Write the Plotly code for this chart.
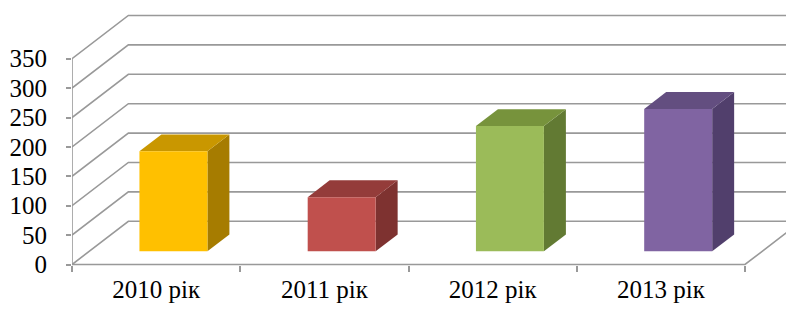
import plotly.graph_objects as go

# ---- data ----
categories = ["2010 рік", "2011 рік", "2012 рік", "2013 рік"]
values = [170, 92, 213, 242]
y_ticks = [0, 50, 100, 150, 200, 250, 300, 350]
front_colors = ["#FFC000", "#C0504D", "#9BBB59", "#8064A2"]
top_colors = ["#C99700", "#943C3A", "#77933C", "#634E80"]
side_colors = ["#A67C00", "#7E3230", "#627A33", "#513F6C"]

# ---- oblique 3D projection parameters (in data units) ----
DX = 0.335      # x shift for full depth (category units)
DY = 73.5       # y shift for full depth (value units)
D_FRONT = 0.307 # depth of bar front face
D_BAR = 0.39    # bar depth
BAR_W = 0.404   # bar width (category units)
N = len(categories)
YMAX = y_ticks[-1]

GRID = "#999999"
fig = go.Figure()

def line(xs, ys, color=GRID, width=1.6):
    fig.add_trace(go.Scatter(x=xs, y=ys, mode="lines", hoverinfo="skip",
                             line=dict(color=color, width=width), showlegend=False))

# gridlines on left wall and back wall
for v in y_ticks:
    line([0, DX, N + DX + 0.5], [v, v + DY, v + DY])
# y axis line (front-left edge)
line([0, 0], [0, YMAX])
# floor front edge and right edge
line([0, N, N + DX], [0, 0, DY])

# bars
for i, (v, fc, tc, sc) in enumerate(zip(values, front_colors, top_colors, side_colors)):
    xl = i + 0.5 - BAR_W / 2 + D_FRONT * DX
    xr = xl + BAR_W
    y0 = D_FRONT * DY
    y1 = y0 + v
    ddx = D_BAR * DX
    ddy = D_BAR * DY
    # side face
    fig.add_trace(go.Scatter(x=[xr, xr + ddx, xr + ddx, xr, xr], y=[y0, y0 + ddy, y1 + ddy, y1, y0],
                             fill="toself", fillcolor=sc, mode="lines", line=dict(width=0, color=sc),
                             hoverinfo="skip", showlegend=False))
    # top face
    fig.add_trace(go.Scatter(x=[xl, xr, xr + ddx, xl + ddx, xl], y=[y1, y1, y1 + ddy, y1 + ddy, y1],
                             fill="toself", fillcolor=tc, mode="lines", line=dict(width=0, color=tc),
                             hoverinfo="skip", showlegend=False))
    # front face
    fig.add_trace(go.Scatter(x=[xl, xr, xr, xl, xl], y=[y0, y0, y1, y1, y0],
                             fill="toself", fillcolor=fc, mode="lines", line=dict(width=0, color=fc),
                             hoverinfo="skip", showlegend=False))

# page body has an 8px default margin, so the figure is offset by 8px
W, H = 786, 303
L, B = 64, 40
PX_PER_CAT = 168.25
PX_PER_VAL = 0.588
Y0PX = 256.5
plot_h = H - B
vmax = Y0PX / PX_PER_VAL
vmin = (Y0PX - plot_h) / PX_PER_VAL
xmax = (W - L) / PX_PER_CAT

font = dict(family="Liberation Serif, Times New Roman, serif", size=25, color="black")

fig.update_layout(
    width=W, height=H,
    margin=dict(l=L, r=0, t=0, b=B, autoexpand=False),
    paper_bgcolor="white", plot_bgcolor="white",
    font=font,
    xaxis=dict(range=[0, xmax], showgrid=False, zeroline=False, showline=False,
               tickvals=[i + 0.5 for i in range(N)], ticktext=categories,
               ticks="", anchor="free", position=(plot_h - Y0PX) / plot_h,
               ticklabelstandoff=7, automargin=False,
               minor=dict(tickvals=list(range(N + 1)), ticks="outside", ticklen=6,
                          tickcolor=GRID, tickwidth=1.6, showgrid=False),
               tickfont=font, fixedrange=True),
    yaxis=dict(range=[vmin, vmax], showgrid=False, zeroline=False, showline=False,
               tickvals=y_ticks, ticks="outside", ticklen=5, tickcolor=GRID, tickwidth=1.6,
               ticklabelstandoff=14, tickfont=font, fixedrange=True, automargin=False),
)

fig.write_html("out.html")
